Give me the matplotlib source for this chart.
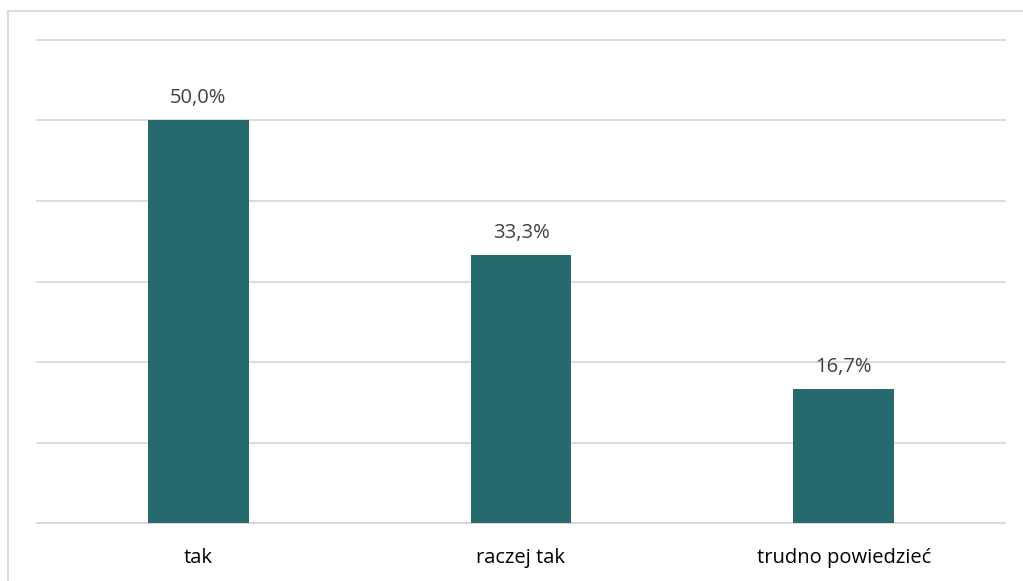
import matplotlib
matplotlib.use("Agg")
import matplotlib.pyplot as plt
from matplotlib.lines import Line2D

categories = ["tak", "raczej tak", "trudno powiedzieć"]
values = [50.0, 33.3, 16.7]
labels = ["50,0%", "33,3%", "16,7%"]

W, H = 1023, 581
fig = plt.figure(figsize=(W / 100, H / 100), dpi=100)
ax = fig.add_axes([37 / W, 58 / H, (1005 - 37) / W, (523 - 40) / H])

bar_color = "#266A6E"
text_color = "#404040"
grid_color = "#D9D9D9"
font = "Open Sans"
fs = 14.5
px = 72 / 100  # points per pixel

x = list(range(len(categories)))
ax.bar(x, values, width=0.313, color=bar_color, zorder=3)
ax.set_xlim(-0.5, len(categories) - 0.5)
ax.set_ylim(0, 60)
ax.set_yticks([0, 10, 20, 30, 40, 50, 60])
ax.yaxis.grid(True, color=grid_color, linewidth=1.3, zorder=0)
for gl in ax.get_ygridlines():
    gl.set_clip_on(False)
ax.tick_params(axis="y", left=False, labelleft=False)
ax.tick_params(axis="x", bottom=False, labelbottom=False)
ax.set_xticks(x)
for s in ["top", "right", "left"]:
    ax.spines[s].set_visible(False)
ax.spines["bottom"].set_color(grid_color)
ax.spines["bottom"].set_linewidth(1.3)

for xi, cat in zip(x, categories):
    ax.annotate(cat, (xi, 0), xycoords=("data", "axes fraction"),
                xytext=(0, -40 * px), textcoords="offset points",
                ha="center", va="baseline", fontsize=fs, color="black", family=font)

for xi, v, lab in zip(x, values, labels):
    ax.annotate(lab, (xi, v), xytext=(0, 17 * px), textcoords="offset points",
                ha="center", va="baseline", fontsize=fs, color=text_color, family=font)

# outer chart-area border (partially visible in the crop)
fig.add_artist(Line2D([7.5 / W, 7.5 / W], [0, 1 - 10.5 / H], transform=fig.transFigure,
                      color=grid_color, linewidth=1.3))
fig.add_artist(Line2D([7.5 / W, 1], [1 - 10.5 / H, 1 - 10.5 / H], transform=fig.transFigure,
                      color=grid_color, linewidth=1.3))

fig.savefig("out.png", dpi=100, facecolor="white")
